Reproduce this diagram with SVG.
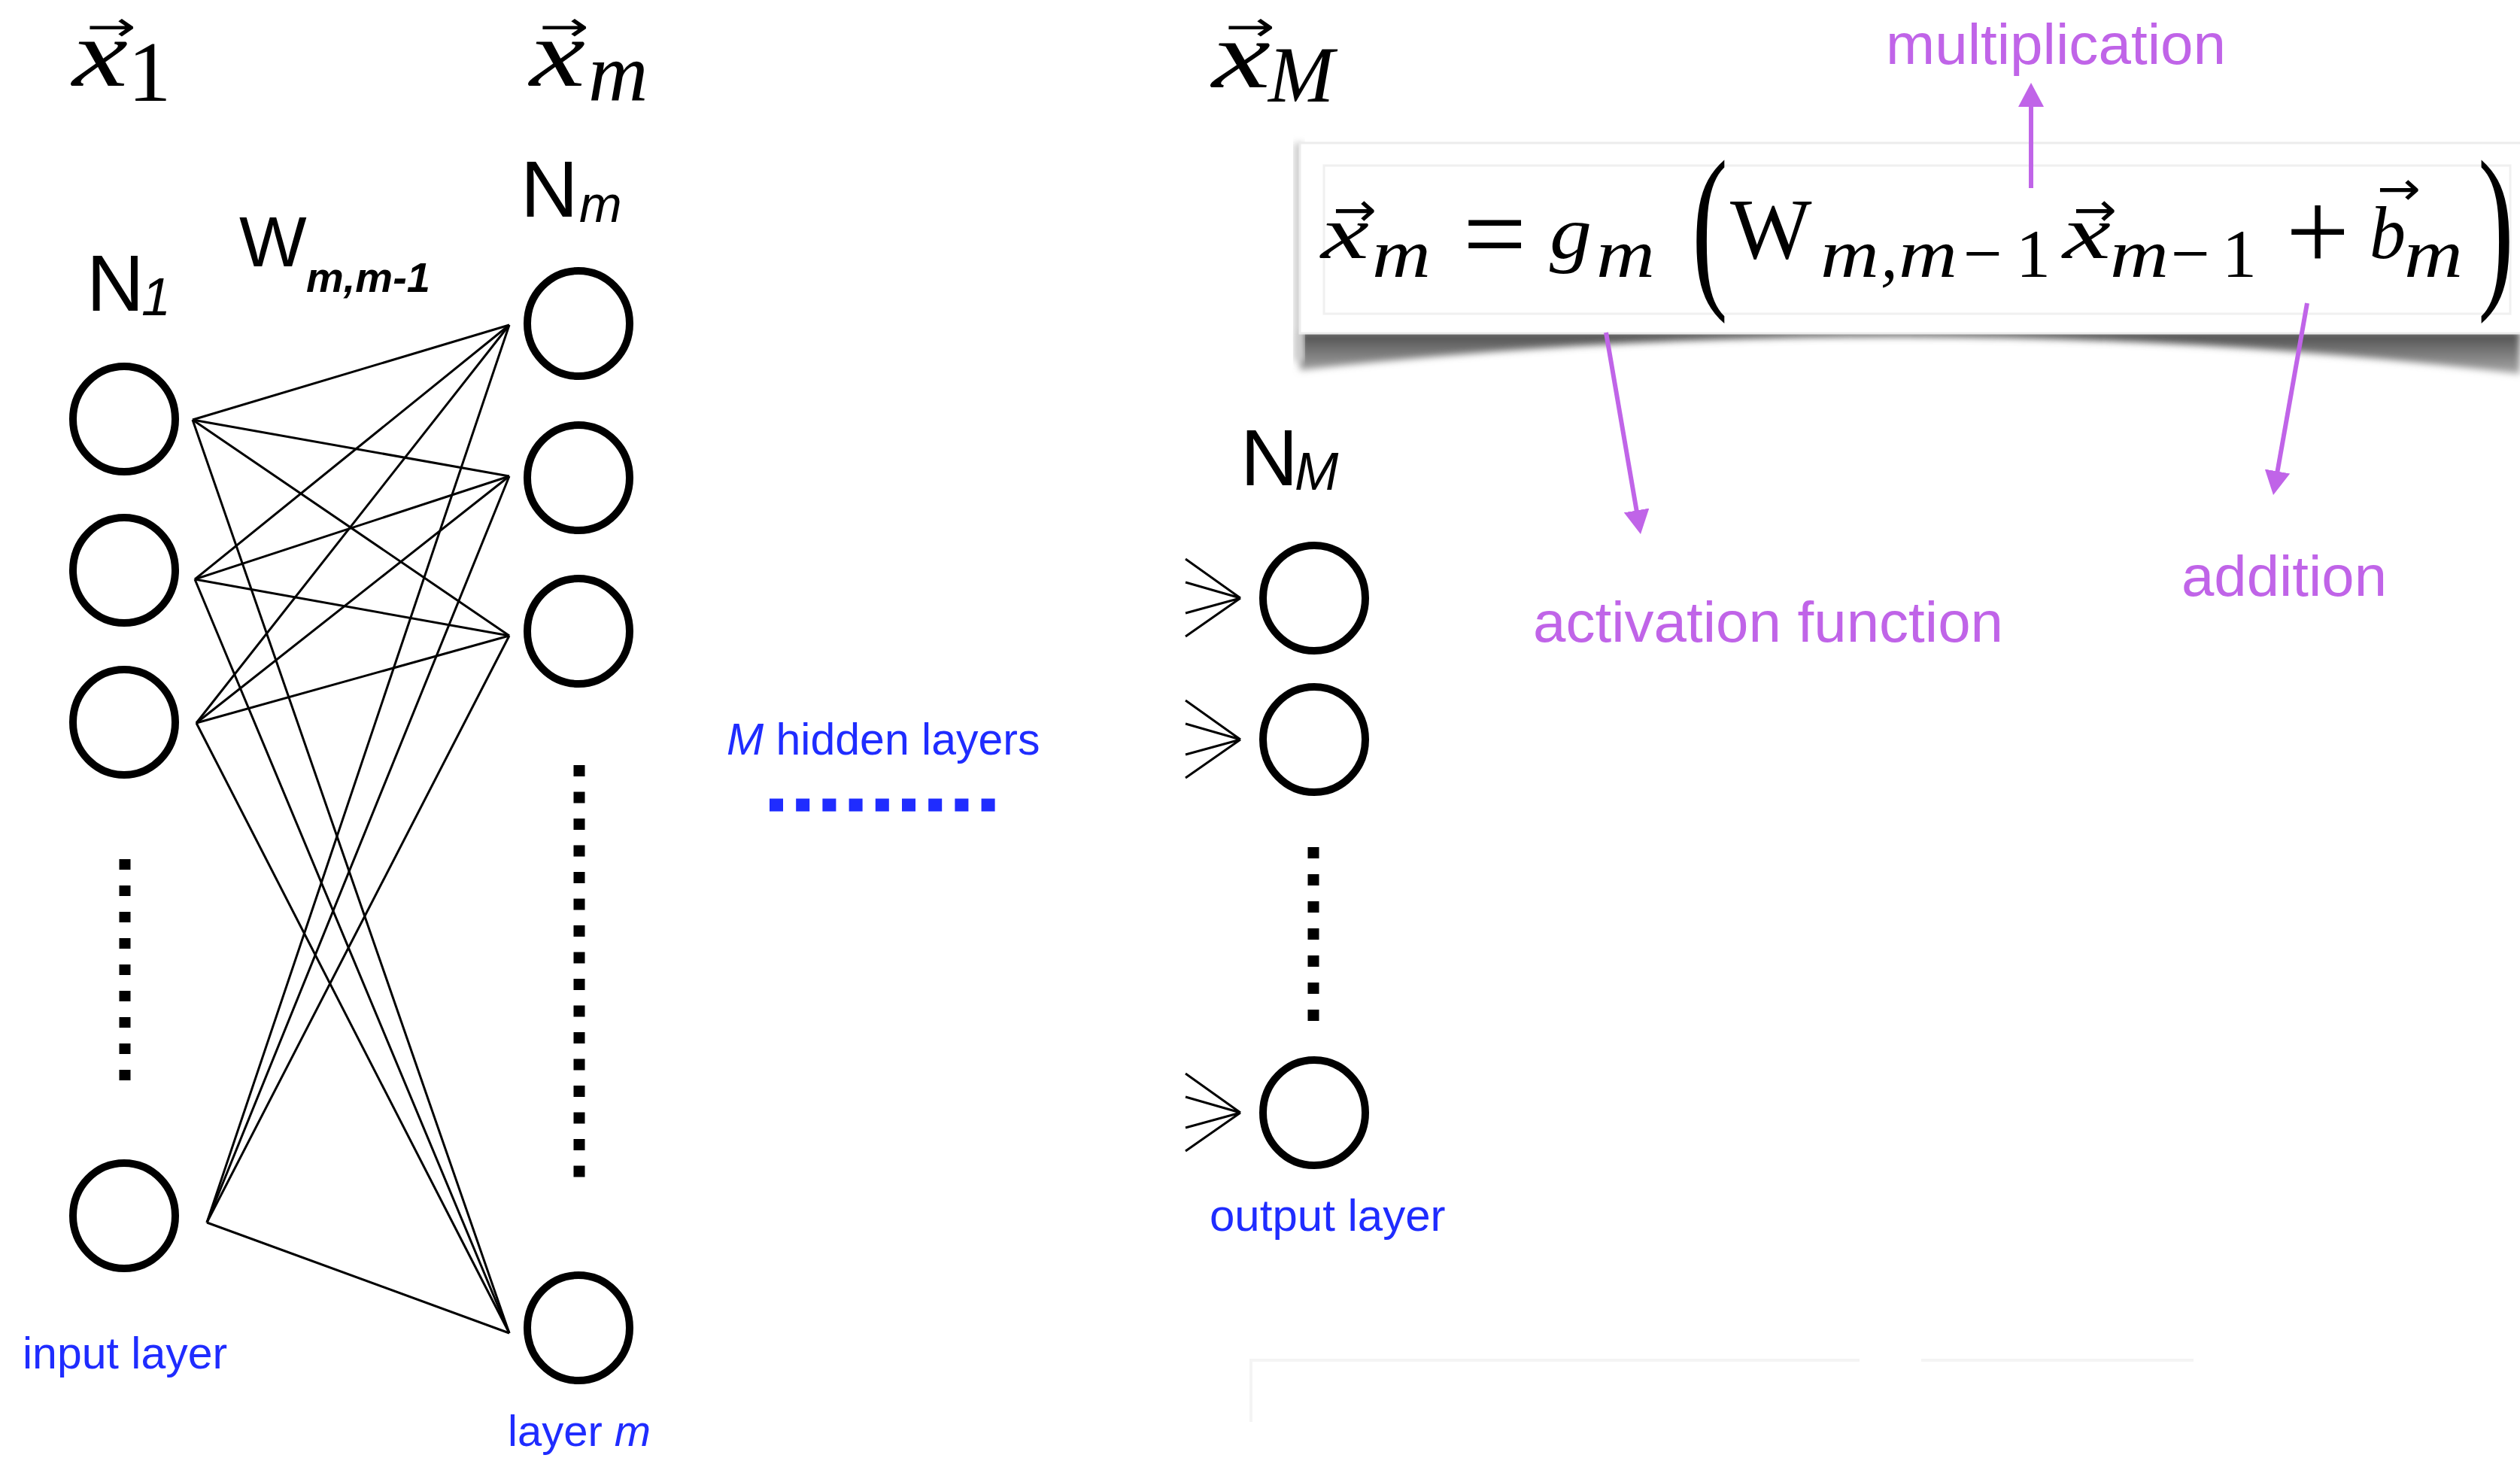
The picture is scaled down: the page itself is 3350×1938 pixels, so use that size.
<svg xmlns="http://www.w3.org/2000/svg" width="3350" height="1938" viewBox="0 0 3350 1938">
<style>
.node{fill:none;stroke:#000;stroke-width:10}
.link{stroke:#000;stroke-width:3;fill:none}
.fan{stroke:#000;stroke-width:3;fill:none}
.dots{stroke:#000;stroke-width:15;fill:none}
.sans{font-family:"Liberation Sans",Arial,sans-serif}
.math{font-family:"Liberation Serif","Times New Roman",serif}
.it{font-style:italic}
.vec{font-family:"DejaVu Sans",sans-serif;text-anchor:middle}
.blue{fill:#1f2cff}
.purple{fill:#c064e8}
.ann{stroke:#c064e8;stroke-width:6;fill:none}
.faint{stroke:#f4f4f4;stroke-width:4;fill:none}
</style>
<defs>
<marker id="ah" markerUnits="userSpaceOnUse" markerWidth="32" markerHeight="34" refX="12" refY="17" orient="auto">
<path d="M0,0 L32,17 L0,34 Z" fill="#c064e8"/>
</marker>
<filter id="blur" x="-5%" y="-100%" width="110%" height="300%"><feGaussianBlur stdDeviation="5"/></filter>
<linearGradient id="sh" x1="0" y1="0" x2="0" y2="1">
<stop offset="0" stop-color="#4a4a4a"/>
<stop offset="1" stop-color="#a8a8a8"/>
</linearGradient>
</defs>
<rect width="3350" height="1938" fill="#fff"/>

<!-- top labels -->
<g id="label-x1">
<text class="vec" x="148" y="54" font-size="55" textLength="66" lengthAdjust="spacingAndGlyphs">→</text>
<text class="math it" x="96" y="114" font-size="128" textLength="74" lengthAdjust="spacingAndGlyphs">x</text>
<text class="math" x="170" y="134" font-size="115">1</text>
</g>
<g id="label-xm">
<text class="vec" x="750" y="54" font-size="55" textLength="66" lengthAdjust="spacingAndGlyphs">→</text>
<text class="math it" x="704" y="114" font-size="128" textLength="74" lengthAdjust="spacingAndGlyphs">x</text>
<text class="math it" x="782" y="134" font-size="110">m</text>
</g>
<g id="label-xM">
<text class="vec" x="1662" y="54" font-size="55" textLength="66" lengthAdjust="spacingAndGlyphs">→</text>
<text class="math it" x="1611" y="116" font-size="128" textLength="78" lengthAdjust="spacingAndGlyphs">x</text>
<text class="math it" x="1686" y="135" font-size="105">M</text>
</g>

<g id="label-N1">
<text class="sans" x="115" y="413" font-size="106">N</text>
<text class="sans it" x="188" y="419" font-size="70">1</text>
</g>
<g id="label-Nm">
<text class="sans" x="692" y="288" font-size="106">N</text>
<text class="sans it" x="770" y="295" font-size="68">m</text>
</g>
<g id="label-NM">
<text class="sans" x="1649" y="645" font-size="106">N</text>
<text class="sans it" x="1721" y="651" font-size="70">M</text>
</g>
<g id="label-W">
<text class="sans" x="318" y="354" font-size="95">W</text>
<text class="sans it" x="407" y="388" font-size="56" font-weight="bold">m,m-1</text>
</g>

<!-- input layer -->
<g id="input-1"><ellipse class="node" cx="165" cy="557" rx="68" ry="70"/></g>
<g id="input-2"><ellipse class="node" cx="165" cy="758" rx="68" ry="70"/></g>
<g id="input-3"><ellipse class="node" cx="165" cy="960" rx="68" ry="70"/></g>
<g id="input-N"><ellipse class="node" cx="165" cy="1616" rx="68" ry="70"/></g>
<line class="dots" x1="166" y1="1142" x2="166" y2="1442" stroke-dasharray="14 21"/>
<text class="sans blue" x="30" y="1819" font-size="59">input layer</text>

<!-- layer m -->
<g id="hidden-1"><ellipse class="node" cx="769" cy="430" rx="68" ry="70"/></g>
<g id="hidden-2"><ellipse class="node" cx="769" cy="635" rx="68" ry="70"/></g>
<g id="hidden-3"><ellipse class="node" cx="769" cy="839" rx="68" ry="70"/></g>
<g id="hidden-N"><ellipse class="node" cx="769" cy="1765" rx="68" ry="70"/></g>
<line class="dots" x1="770" y1="1017" x2="770" y2="1565" stroke-dasharray="15 20.5"/>
<text class="sans blue" x="675" y="1922" font-size="58">layer <tspan class="it">m</tspan></text>

<!-- hidden layers indicator -->
<g id="hidden-layers">
<text class="sans blue" x="966" y="1003" font-size="59"><tspan class="it">M</tspan> hidden layers</text>
<line x1="1023" y1="1070" x2="1323" y2="1070" stroke="#1f2cff" stroke-width="17" stroke-dasharray="18 17.2"/>
</g>

<!-- output layer -->
<g id="output-1"><ellipse class="node" cx="1747" cy="795" rx="68" ry="70"/></g>
<g id="output-2"><ellipse class="node" cx="1747" cy="983" rx="68" ry="70"/></g>
<g id="output-N"><ellipse class="node" cx="1747" cy="1479" rx="68" ry="70"/></g>
<line class="dots" x1="1746" y1="1126" x2="1746" y2="1357" stroke-dasharray="15 21"/>
<text class="sans blue" x="1608" y="1636" font-size="60">output layer</text>

<!-- faint leftover lines -->
<path class="faint" d="M1663,1890 L1663,1808 L2472,1808 M2554,1808 L2916,1808"/>

<!-- formula box -->
<g id="formula">
<path d="M1728,440 L1728,492 Q2540,400 3350,497 L3350,440 Z" fill="url(#sh)" filter="url(#blur)"/>
<rect x="1720" y="190" width="14" height="290" fill="#cfcfcf" filter="url(#blur)"/>
<rect x="1728" y="190" width="1640" height="253" fill="#fff" stroke="#ececec" stroke-width="3"/>
<rect x="1760" y="220" width="1577" height="197" fill="#fff" stroke="#f0f0f0" stroke-width="3"/>
<text class="vec" x="1801" y="300" font-size="62" textLength="58" lengthAdjust="spacingAndGlyphs">→</text>
<text class="math it" x="1756" y="343" font-size="100" textLength="64" lengthAdjust="spacingAndGlyphs">x</text>
<text class="math it" x="1824" y="368" font-size="92" textLength="78" lengthAdjust="spacingAndGlyphs">m</text>
<text class="math" x="1987" y="361" font-size="150" text-anchor="middle">=</text>
<text class="math it" x="2060" y="343" font-size="100" textLength="56" lengthAdjust="spacingAndGlyphs">g</text>
<text class="math it" x="2122" y="368" font-size="92" textLength="78" lengthAdjust="spacingAndGlyphs">m</text>
<text class="math" transform="translate(2273,0) scale(0.6,1)" x="0" y="379" font-size="240" text-anchor="middle">(</text>
<text class="math" x="2300" y="343" font-size="115">W</text>
<text class="math it" x="2420" y="368" font-size="92" textLength="78" lengthAdjust="spacingAndGlyphs">m</text>
<text class="math it" x="2500" y="368" font-size="92">,</text>
<text class="math it" x="2524" y="368" font-size="92" textLength="78" lengthAdjust="spacingAndGlyphs">m</text>
<text class="math" x="2610" y="368" font-size="92">−</text>
<text class="math" x="2680" y="368" font-size="92">1</text>
<text class="vec" x="2785" y="300" font-size="62" textLength="58" lengthAdjust="spacingAndGlyphs">→</text>
<text class="math it" x="2742" y="343" font-size="100" textLength="64" lengthAdjust="spacingAndGlyphs">x</text>
<text class="math it" x="2805" y="368" font-size="92" textLength="78" lengthAdjust="spacingAndGlyphs">m</text>
<text class="math" x="2886" y="368" font-size="92">−</text>
<text class="math" x="2954" y="368" font-size="92">1</text>
<text class="math" x="3081" y="358" font-size="150" text-anchor="middle">+</text>
<text class="vec" x="3189" y="272" font-size="62" textLength="58" lengthAdjust="spacingAndGlyphs">→</text>
<text class="math it" x="3150" y="343" font-size="100" textLength="48" lengthAdjust="spacingAndGlyphs">b</text>
<text class="math it" x="3196" y="368" font-size="92" textLength="78" lengthAdjust="spacingAndGlyphs">m</text>
<text class="math" transform="translate(3318,0) scale(0.6,1)" x="0" y="379" font-size="240" text-anchor="middle">)</text>
</g>

<!-- annotations -->
<text class="sans purple" x="2507" y="85" font-size="76" textLength="452" lengthAdjust="spacingAndGlyphs">multiplication</text>
<text class="sans purple" x="2038" y="853" font-size="76" textLength="625" lengthAdjust="spacingAndGlyphs">activation function</text>
<text class="sans purple" x="2900" y="792" font-size="76" textLength="273" lengthAdjust="spacingAndGlyphs">addition</text>

<!-- connectors -->
<g id="connectors">
<g id="weights">
<line class="link" x1="256" y1="558" x2="677" y2="432"/>
<line class="link" x1="256" y1="558" x2="677" y2="633"/>
<line class="link" x1="256" y1="558" x2="677" y2="845"/>
<line class="link" x1="256" y1="558" x2="677" y2="1772"/>
<line class="link" x1="259" y1="770" x2="677" y2="432"/>
<line class="link" x1="259" y1="770" x2="677" y2="633"/>
<line class="link" x1="259" y1="770" x2="677" y2="845"/>
<line class="link" x1="259" y1="770" x2="677" y2="1772"/>
<line class="link" x1="261" y1="961" x2="677" y2="432"/>
<line class="link" x1="261" y1="961" x2="677" y2="633"/>
<line class="link" x1="261" y1="961" x2="677" y2="845"/>
<line class="link" x1="261" y1="961" x2="677" y2="1772"/>
<line class="link" x1="275" y1="1625" x2="677" y2="432"/>
<line class="link" x1="275" y1="1625" x2="677" y2="633"/>
<line class="link" x1="275" y1="1625" x2="677" y2="845"/>
<line class="link" x1="275" y1="1625" x2="677" y2="1772"/>
</g>
<g id="fans">
<path class="fan" d="M1576,743 L1649,795 M1576,774 L1649,795 M1576,815 L1649,795 M1576,846 L1649,795"/>
<path class="fan" d="M1576,931 L1649,983 M1576,962 L1649,983 M1576,1003 L1649,983 M1576,1034 L1649,983"/>
<path class="fan" d="M1576,1427 L1649,1479 M1576,1458 L1649,1479 M1576,1499 L1649,1479 M1576,1530 L1649,1479"/>
</g>
<g id="annotation-arrows">
<line class="ann" x1="2700" y1="250" x2="2700" y2="130" marker-end="url(#ah)"/>
<line class="ann" x1="2135" y1="442" x2="2177.6" y2="690.3" marker-end="url(#ah)"/>
<line class="ann" x1="3067" y1="403" x2="3025.5" y2="638.3" marker-end="url(#ah)"/>
</g>
</g>
</svg>
